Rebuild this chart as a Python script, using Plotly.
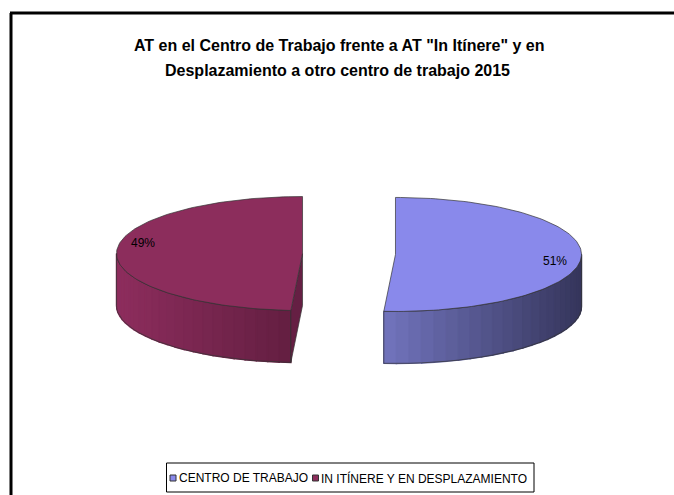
import numpy as np
import plotly.graph_objects as go

# Datos
categorias = ['CENTRO DE TRABAJO', 'IN ITÍNERE Y EN DESPLAZAMIENTO']
valores = [51, 49]
titulo = ['AT en el Centro de Trabajo frente a AT "In Itínere" y en',
          'Desplazamiento a otro centro de trabajo 2015']

# Estilo
colores_sup = ['#8989EB', '#8C2D5C']
colores_lado = [((114, 117, 190), (54, 54, 92)), ((142, 46, 94), (100, 31, 66))]
colores_corte = ['#3F3F6A', '#651F43']
FUENTE = 'Liberation Sans, Arial, sans-serif'

W, H = 674, 495
CX, CY = 349, 254        # centro del pastel (px)
RX, RY = 186, 57         # semiejes de la elipse
PROF = 52                # grosor 3D
EXPL = 0.25              # separacion de porciones


def punto(cx, cy, a, z=0):
    r = np.radians(a)
    return cx + RX * np.cos(r), cy - RY * np.sin(r) + z


def mezcla(c0, c1, t):
    return 'rgb(%d,%d,%d)' % tuple(int(c0[i] + (c1[i] - c0[i]) * t) for i in range(3))


fig = go.Figure()
total = sum(valores)
ang = 90.0
porciones = []
for i, v in enumerate(valores):
    barrido = 360.0 * v / total
    a0, a1 = ang, ang - barrido
    ang = a1
    mid = (a0 + a1) / 2
    cx = CX + EXPL * RX * np.cos(np.radians(mid))
    cy = CY - EXPL * RY * np.sin(np.radians(mid))
    porciones.append((i, a0, a1, mid, cx, cy))

# dibujar primero la porcion de la izquierda
for i, a0, a1, mid, cx, cy in sorted(porciones, key=lambda p: p[4]):
    lo, hi = min(a0, a1), max(a0, a1)

    # lado exterior visible (parte frontal de la elipse)
    vlo, vhi = max(lo, -180), min(hi, 0)
    if vhi > vlo:
        n = 24
        angs = np.linspace(vlo, vhi, n + 1)
        top = [punto(cx, cy, a) for a in angs]
        bot = [punto(cx, cy, a, PROF) for a in angs[::-1]]
        pts = top + bot + [top[0]]
        # base de color medio (evita rendijas entre franjas)
        fig.add_trace(go.Scatter(x=[p[0] for p in pts], y=[p[1] for p in pts],
                                 mode='lines', fill='toself',
                                 fillcolor=mezcla(colores_lado[i][0], colores_lado[i][1], 0.5),
                                 line=dict(width=0), hoverinfo='skip', showlegend=False))
        xmin, xmax = min(p[0] for p in top), max(p[0] for p in top)
        for k in range(n):
            p1, p2 = top[k], top[k + 1]
            t = ((p1[0] + p2[0]) / 2 - xmin) / (xmax - xmin)
            col = mezcla(colores_lado[i][0], colores_lado[i][1], t)
            fig.add_trace(go.Scatter(
                x=[p1[0], p2[0], p2[0], p1[0], p1[0]],
                y=[p1[1], p2[1], p2[1] + PROF, p1[1] + PROF, p1[1]],
                mode='lines', fill='toself', fillcolor=col,
                line=dict(color=col, width=1.5), hoverinfo='skip', showlegend=False))
        fig.add_trace(go.Scatter(x=[p[0] for p in pts], y=[p[1] for p in pts],
                                 mode='lines', line=dict(color='#333333', width=0.7),
                                 hoverinfo='skip', showlegend=False))

    # caras de corte visibles
    for a, normal in ((hi, hi + 90), (lo, lo - 90)):
        if np.sin(np.radians(normal)) < -0.01:
            e = punto(cx, cy, a)
            xs = [cx, e[0], e[0], cx, cx]
            ys = [cy, e[1], e[1] + PROF, cy + PROF, cy]
            fig.add_trace(go.Scatter(x=xs, y=ys, mode='lines', fill='toself',
                                     fillcolor=colores_corte[i],
                                     line=dict(color='#333333', width=0.7),
                                     hoverinfo='skip', showlegend=False))

    # cara superior
    angs = np.linspace(a0, a1, 120)
    pts = [(cx, cy)] + [punto(cx, cy, a) for a in angs] + [(cx, cy)]
    fig.add_trace(go.Scatter(x=[p[0] for p in pts], y=[p[1] for p in pts],
                             mode='lines', fill='toself', fillcolor=colores_sup[i],
                             line=dict(color='#333333', width=0.7),
                             hoverinfo='skip', showlegend=False))

    # etiqueta de porcentaje
    lx, ly = cx + 0.86 * RX * np.cos(np.radians(mid)), cy - 0.86 * RY * np.sin(np.radians(mid))
    fig.add_annotation(x=lx, y=ly + (5 if np.cos(np.radians(mid)) > 0 else -9),
                       text=f'{valores[i] / total * 100:.0f}%', showarrow=False,
                       font=dict(family=FUENTE, size=12, color='black'))

# leyenda (construida a mano para juntar simbolo y texto)
LEY_X = [173, 315.5]
LEY_Y = 478
fig.add_shape(type='rect', x0=166.5, x1=534, y0=463, y1=492,
              line=dict(color='black', width=1), fillcolor='white', layer='below')
for i, c in enumerate(categorias):
    fig.add_trace(go.Scatter(x=[LEY_X[i]], y=[LEY_Y], mode='markers', hoverinfo='skip',
                             marker=dict(symbol='square', size=6, color=colores_sup[i],
                                         line=dict(color='#333333', width=1)),
                             showlegend=False))
    fig.add_annotation(x=LEY_X[i] + 3.5, y=LEY_Y, text=c, showarrow=False, xanchor='left',
                       font=dict(family=FUENTE, size=12, color='black'))

# titulo
fig.add_annotation(x=339, y=45, text=f'<b>{titulo[0]}</b>', showarrow=False,
                   font=dict(family=FUENTE, size=16, color='black'))
fig.add_annotation(x=337, y=70, text=f'<b>{titulo[1]}</b>', showarrow=False,
                   font=dict(family=FUENTE, size=16, color='black'))

# marco superior e izquierdo
fig.add_shape(type='line', xref='paper', yref='paper', x0=10 / W, x1=1, y0=1 - 13 / H, y1=1 - 13 / H,
              line=dict(color='black', width=3))
fig.add_shape(type='line', xref='paper', yref='paper', x0=11 / W, x1=11 / W, y0=0, y1=1 - 13 / H,
              line=dict(color='black', width=3))

fig.update_xaxes(range=[0, W], visible=False, fixedrange=True)
fig.update_yaxes(range=[H, 0], visible=False, fixedrange=True)
fig.update_layout(
    width=W, height=H,
    margin=dict(l=0, r=0, t=0, b=0),
    plot_bgcolor='white', paper_bgcolor='white',
    showlegend=False,
)

fig.write_html('out.html', config={'displayModeBar': False},
               post_script="document.body.style.margin='0px';")
